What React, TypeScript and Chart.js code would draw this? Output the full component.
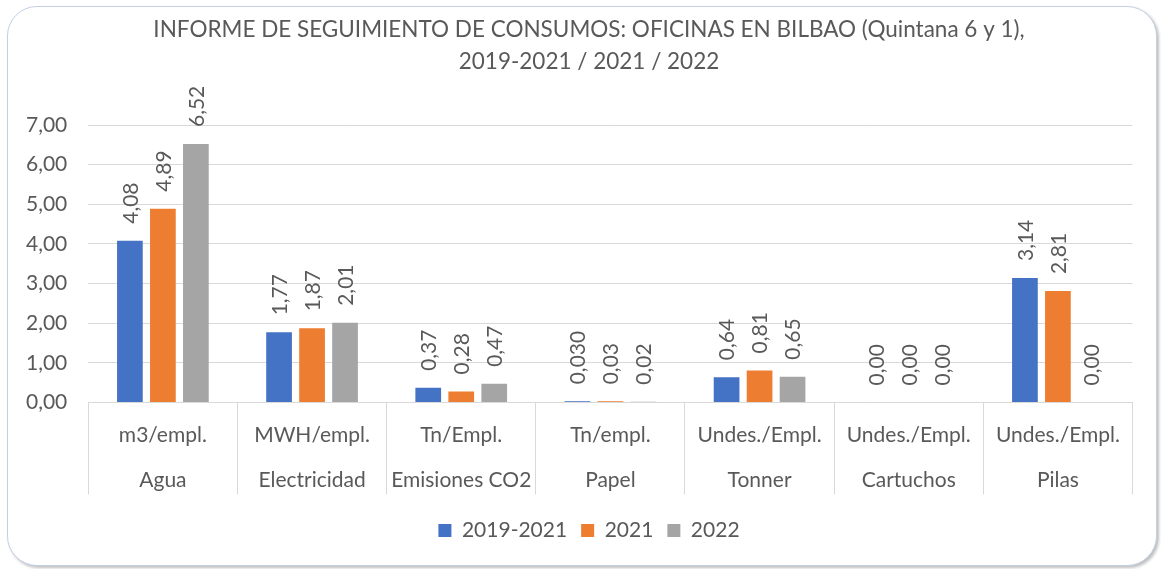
import React, { useEffect, useRef } from "react";
import { Chart, registerables } from "chart.js";

Chart.register(...registerables);

const titleLines = [
  "INFORME DE SEGUIMIENTO DE CONSUMOS: OFICINAS EN BILBAO (Quintana 6 y 1),",
  "2019-2021 / 2021 / 2022",
];
const categories = ["Agua", "Electricidad", "Emisiones CO2", "Papel", "Tonner", "Cartuchos", "Pilas"];
const units = ["m3/empl.", "MWH/empl.", "Tn/Empl.", "Tn/empl.", "Undes./Empl.", "Undes./Empl.", "Undes./Empl."];
const seriesNames = ["2019-2021", "2021", "2022"];
const values2019_2021 = [4.08, 1.77, 0.37, 0.03, 0.64, 0.0, 3.14];
const values2021 = [4.89, 1.87, 0.28, 0.03, 0.81, 0.0, 2.81];
const values2022 = [6.52, 2.01, 0.47, 0.02, 0.65, 0.0, 0.0];
const decimals2019_2021 = [2, 2, 2, 3, 2, 2, 2];
const decimals2021 = [2, 2, 2, 2, 2, 2, 2];
const decimals2022 = [2, 2, 2, 2, 2, 2, 2];
const yTicks = [0, 1, 2, 3, 4, 5, 6, 7];
const seriesColors = ["#4472C4", "#ED7D31", "#A5A5A5"];

const FONT = "Lato";
const TEXT = "#595959";

const fmt = (v: number, d: number) => v.toFixed(d).replace(".", ",");

const dataLabelPlugin = {
  id: "dataLabels",
  afterDatasetsDraw(chart: any) {
    const ctx = chart.ctx;
    ctx.save();
    ctx.font = `21px ${FONT}`;
    ctx.fillStyle = TEXT;
    ctx.textAlign = "left";
    ctx.textBaseline = "middle";
    chart.data.datasets.forEach((ds: any, di: number) => {
      const meta = chart.getDatasetMeta(di);
      meta.data.forEach((el: any, i: number) => {
        const txt = fmt(ds.data[i], ds.decimals[i]);
        ctx.save();
        ctx.translate(el.x + 1, el.y - 17);
        ctx.rotate(-Math.PI / 2);
        ctx.fillText(txt, 0, 0);
        ctx.restore();
      });
    });
    ctx.restore();
  },
};

const categoryAxisPlugin = {
  id: "categoryAxis",
  afterDraw(chart: any) {
    const ctx = chart.ctx;
    const xs = chart.scales.x;
    const bottom = chart.chartArea.bottom;
    ctx.save();
    ctx.font = `21px ${FONT}`;
    ctx.fillStyle = TEXT;
    ctx.textAlign = "center";
    ctx.textBaseline = "middle";
    categories.forEach((c, i) => {
      const x = xs.getPixelForValue(i);
      ctx.fillText(units[i], x, bottom + 32.5);
      ctx.fillText(c, x, bottom + 77.5);
    });
    ctx.restore();
  },
};

export default function App() {
  const ref = useRef<HTMLCanvasElement>(null);
  useEffect(() => {
    if (!ref.current) return;
    const chart = new Chart(ref.current, {
      type: "bar",
      data: {
        labels: categories,
        datasets: [
          { label: seriesNames[0], data: values2019_2021, decimals: decimals2019_2021, backgroundColor: seriesColors[0] } as any,
          { label: seriesNames[1], data: values2021, decimals: decimals2021, backgroundColor: seriesColors[1] } as any,
          { label: seriesNames[2], data: values2022, decimals: decimals2022, backgroundColor: seriesColors[2] } as any,
        ],
      },
      options: {
        responsive: false,
        animation: false,
        layout: { padding: { left: 17, right: 0, top: 0, bottom: 18 } },
        datasets: { bar: { categoryPercentage: 0.6635, barPercentage: 0.779 } },
        plugins: {
          title: {
            display: true,
            text: titleLines,
            color: TEXT,
            font: { family: FONT, size: 22.5, weight: "normal", lineHeight: 1.4 },
            padding: { top: 14, bottom: 48 },
          },
          legend: {
            position: "bottom",
            labels: {
              color: TEXT,
              font: { family: FONT, size: 21 },
              boxWidth: 13,
              boxHeight: 13,
              padding: 14,
            },
          },
          tooltip: { enabled: false },
        },
        scales: {
          x: {
            grid: { drawOnChartArea: false, drawTicks: true, tickLength: 92, color: "#D9D9D9", offset: true },
            border: { display: true, color: "#D9D9D9" },
            ticks: { display: false },
            afterFit: (s: any) => { s.height = 103.5; },
          },
          y: {
            min: 0,
            max: 7,
            afterBuildTicks: (s: any) => { s.ticks = yTicks.map((v) => ({ value: v })); },
            ticks: {
              color: TEXT,
              font: { family: FONT, size: 21 },
              padding: 21,
              callback: (v: any) => fmt(Number(v), 2),
            },
            grid: { color: "#D9D9D9", drawTicks: false },
            border: { display: false },
            afterFit: (s: any) => { s.width = 71.3; },
          },
          yR: {
            position: "right",
            display: true,
            grid: { display: false },
            ticks: { display: false },
            border: { display: false },
            afterFit: (s: any) => { s.width = 28.5; },
          },
        },
      } as any,
      plugins: [dataLabelPlugin, categoryAxisPlugin],
    });
    return () => chart.destroy();
  }, []);

  return (
    <div style={{ position: "absolute", left: 0, top: 0, width: 1161, height: 569, background: "#fff" }}>
      <div
        style={{
          position: "absolute",
          left: 7,
          top: 6,
          width: 1148,
          height: 558,
          border: "1.5px solid #c3d0e4",
          borderRadius: 30,
          boxShadow: "2px 2px 3px rgba(0,0,0,0.25)",
          background: "#fff",
        }}
      />
      <canvas
        ref={ref}
        width={1161}
        height={569}
        style={{ position: "absolute", left: 0, top: 0, width: 1161, height: 569 }}
      />
    </div>
  );
}
